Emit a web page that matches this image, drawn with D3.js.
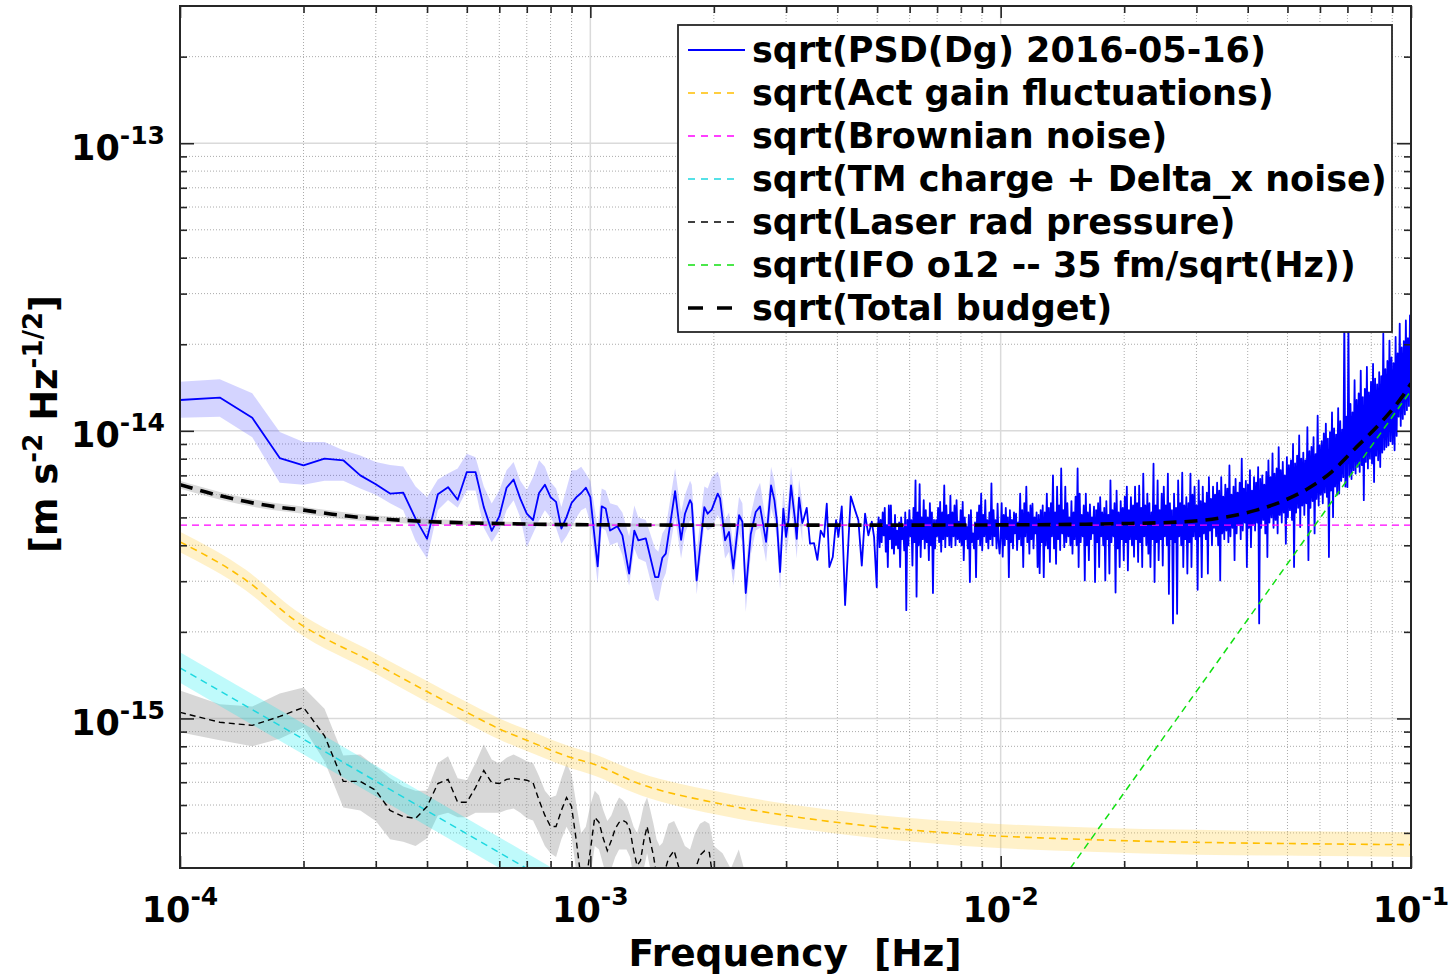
<!DOCTYPE html>
<html>
<head>
<meta charset="utf-8">
<script src="https://cdn.jsdelivr.net/npm/d3@7"></script>
<style>
  html, body { margin: 0; padding: 0; background: #fff; overflow: hidden; }
  svg text { font-family: "DejaVu Sans", sans-serif; font-weight: bold; fill: #000; white-space: pre; }
</style>
</head>
<body>
<svg id="chart" width="1454" height="975"></svg>
<script>
// Frequencies are given in mHz, amplitudes in units of 1e-15 m s^-2 Hz^-1/2.
const MHZ = 1e-3;
const UNIT = 1e-15;

// Axis ranges and decade tick exponents
const xDomain = [1e-4, 1e-1];
const yDomain = [3.02e-16, 3.0e-13];
const xTickExps = ["-4", "-3", "-2", "-1"];
const yTickExps = ["-15", "-14", "-13"];

// Measured sqrt(PSD) of Dg, low-frequency bins with confidence band
const psdLowFreq = [0.100,0.125,0.150,0.175,0.200,0.225,0.250,0.275,0.300,0.325,0.350,0.375,0.400,0.425,0.450,0.475,0.500,0.525,0.550,0.575,0.600,0.625,0.650,0.675,0.700,0.725,0.750,0.775,0.800,0.825,0.850,0.875,0.900,0.925,0.950,0.975,1.000];
const psdLowVal  = [12.8,13.05,11.1,8.04,7.58,8.0,7.9,7.0,6.52,6.05,6.1,4.95,4.21,6.02,6.37,5.76,7.19,7.19,5.43,4.49,5.04,6.34,6.77,5.81,5.15,4.89,6.08,6.5,5.88,5.66,4.57,5.01,5.61,5.88,6.08,6.34,5.88];
const psdLowLo   = [11.1,11.2,9.5,6.6,6.5,6.7,6.7,6.3,6.0,5.6,5.3,4.15,3.6,5.3,5.75,5.4,6.2,6.2,4.6,4.1,4.5,5.3,5.74,5.0,3.94,4.4,4.89,5.3,5.0,4.6,4.05,4.3,4.63,5.0,5.3,5.4,4.8];
const psdLowHi   = [14.8,15.1,13.5,9.9,9.14,9.14,8.56,8.2,7.79,7.6,7.52,6.4,5.88,6.77,7.11,7.4,8.33,8.1,6.4,5.59,6.2,7.29,7.79,6.7,6.21,6.9,7.9,7.5,6.64,6.3,5.43,6.3,7.29,7.3,7.5,7.1,6.7];

// 1 - 3.3 mHz bins: [frequency, value, band low, band high]
const psdMidTable = [
  [1.042,3.38,2.95,4.6],[1.066,5.46,4.6,6.3],[1.090,5.37,4.5,6.2],[1.117,4.5,4.0,5.6],
  [1.164,4.66,4.1,5.5],[1.197,4.33,3.7,5.2],[1.243,3.19,2.9,4.3],[1.280,4.5,3.9,5.5],
  [1.309,4.16,3.6,5.0],[1.365,4.23,3.5,4.9],[1.438,3.1,2.6,3.9],[1.465,3.1,2.55,3.8],
  [1.498,3.62,3.0,4.4],[1.527,3.74,3.2,4.6],[1.609,6.17,5.0,7.4],[1.664,4.18,3.6,5.2],
  [1.701,5.15,4.4,6.0],[1.750,5.74,4.9,6.7],[1.767,5.58,4.8,6.5],[1.816,3.02,2.7,3.8],
  [1.896,5.43,4.7,6.4],[1.932,5.15,4.5,6.3],[1.976,5.32,4.6,6.9],[2.044,6.05,5.1,7.2],
  [2.071,5.82,4.9,6.8],[2.130,4.16,3.6,4.9],[2.178,4.45,3.8,5.2],[2.231,3.32,2.9,4.0],
  [2.304,5.09,4.4,5.9],[2.347,4.83,4.1,5.6],[2.392,2.73,2.35,3.3],[2.460,4.37,3.7,5.1],
  [2.530,5.22,4.5,6.1],[2.592,5.46,4.6,6.6],[2.681,4.11,3.5,4.8],[2.757,6.46,5.4,7.5],
  [2.809,5.74,4.9,6.7],[2.847,4.89,4.2,5.7],[2.900,3.23,2.8,3.9],[2.954,5.36,4.6,6.3],
  [2.999,4.28,3.7,5.0],[3.038,4.89,4.2,5.8],[3.084,6.46,5.4,7.5],[3.154,4.89,4.2,5.7],
  [3.184,4.21,3.6,5.0],[3.226,5.86,5.0,6.8],[3.286,4.78,4.1,5.6]
];

// 3.3 - 5 mHz bins
const psdUpperFreq = [3.304,3.368,3.431,3.509,3.575,3.643,3.712,3.769,3.824,3.898,3.971,4.022,4.100,4.177,4.255,4.312,4.417,4.500,4.587,4.672,4.760,4.852,4.914,4.989];
const psdUpperVal  = [4.89,5.4,4.05,4.07,3.56,4.5,4.28,5.58,3.36,3.64,4.89,4.28,5.46,2.48,4.11,5.92,5.3,4.89,3.4,5.15,4.33,4.83,4.28,2.86];

// 5 - 100 mHz: display bins, 400 per decade starting at 10^-2.3 Hz
const psdDenseStartExp = -2.3;
const psdDensePerDecade = 400;
const psdDenseVal = [
  4.3,5.0,3.94,4.9,4.1,5.2,4.33,5.4,3.8,4.7,
  3.36,5.5,4.2,5.5,3.9,4.6,3.74,5.1,4.0,4.5,
  3.9,4.8,3.36,5.0,4.2,4.6,3.84,5.2,2.38,4.9,
  4.0,5.3,4.3,4.89,3.4,5.4,4.1,6.73,2.65,5.2,
  4.0,6.52,3.64,5.0,4.2,5.74,3.9,5.3,4.1,5.0,
  3.55,5.6,4.0,5.2,2.73,4.9,3.9,4.89,4.3,5.4,
  4.1,5.66,3.8,5.2,4.2,6.46,3.94,5.5,4.3,5.1,
  4.0,5.95,3.94,5.2,4.3,5.5,4.0,5.74,4.2,4.83,
  4.1,5.3,4.0,5.66,3.55,5.0,4.2,4.63,3.9,5.1,
  2.98,5.3,4.1,4.4,3.9,4.8,3.1,5.2,4.2,5.5,
  4.0,6.05,3.84,5.1,4.3,5.74,4.1,4.89,3.9,5.2,
  4.2,6.57,4.0,5.3,4.3,4.89,3.9,5.58,4.1,3.74,
  4.3,5.6,3.65,5.1,4.0,5.4,4.2,5.0,3.1,5.3,
  4.1,4.9,3.9,5.2,4.4,5.15,3.85,4.8,4.2,6.05,
  4.0,5.3,3.36,5.6,4.3,6.4,4.1,5.2,3.74,5.5,
  4.2,5.58,3.9,5.0,4.4,5.2,3.36,5.1,3.2,5.3,
  4.1,5.5,3.1,5.2,4.0,6.05,3.9,5.4,3.5,5.6,
  4.3,7.0,3.9,5.2,3.45,6.4,4.2,5.5,3.85,7.4,
  4.4,5.3,3.94,6.4,4.1,5.6,4.3,5.0,4.0,5.7,
  3.74,5.2,4.2,5.9,4.0,7.4,3.36,6.05,4.1,5.1,
  4.3,5.5,3.02,6.05,4.0,5.2,3.55,5.55,4.2,5.0,
  4.4,5.45,2.98,5.3,4.1,5.6,3.36,5.88,4.3,5.2,
  4.0,5.4,3.02,5.7,4.2,5.1,3.19,6.73,4.1,5.3,
  4.3,5.6,2.74,6.2,3.9,5.2,3.36,5.7,4.2,5.4,
  3.55,5.9,4.1,6.4,3.27,5.3,4.2,5.88,4.0,5.5,
  3.65,6.4,4.2,5.6,3.5,6.45,4.1,5.4,3.36,7.1,
  4.3,5.5,4.0,6.05,3.74,5.6,3.36,5.2,4.2,7.69,
  2.98,5.5,4.1,6.73,3.55,5.3,4.2,6.05,3.4,6.4,
  4.3,5.5,4.0,7.1,2.71,5.6,4.2,5.3,2.14,6.05,
  4.1,5.4,2.31,6.73,4.3,5.6,4.0,7.15,3.36,5.5,
  4.2,5.88,3.19,5.6,4.1,7.1,3.36,6.0,4.3,6.4,
  4.2,5.5,2.8,6.73,4.3,5.7,3.1,6.4,4.4,5.6,
  4.2,6.1,3.19,6.9,4.5,5.8,4.0,6.4,4.6,6.0,
  4.3,6.6,4.0,6.2,3.02,6.9,4.4,5.9,4.2,6.5,
  4.5,6.3,4.1,7.58,4.3,6.0,4.6,6.4,3.55,6.8,
  4.4,6.1,4.7,6.6,4.2,8.0,4.5,6.3,4.8,6.7,
  3.36,6.5,4.6,7.3,3.94,6.2,4.7,6.9,4.5,6.6,
  4.8,7.48,2.14,6.8,4.6,7.0,4.9,6.5,4.4,7.2,
  3.64,7.9,4.8,6.9,5.0,8.35,4.6,7.1,4.9,7.4,
  4.4,8.78,5.1,7.3,4.8,7.8,5.2,7.0,4.05,8.1,
  5.0,7.6,5.3,7.9,4.9,9.0,3.36,7.7,5.2,8.2,
  5.4,9.64,4.63,8.0,5.5,8.4,5.1,7.9,5.6,10.3,
  3.55,8.5,5.4,8.8,5.7,9.5,4.4,8.3,5.8,11.3,
  5.5,8.9,6.0,9.2,5.6,9.8,6.1,10.6,5.9,9.4,
  3.64,9.9,6.2,11.6,5.01,10.2,6.4,9.7,6.0,12.0,
  6.05,10.8,6.7,10.1,6.9,25.0,6.4,11.2,6.37,24.0,
  7.0,12.4,6.8,11.6,7.3,15.0,7.1,12.8,7.5,13.5,
  7.2,16.2,7.6,13.1,5.74,14.0,7.8,16.7,7.4,13.6,
  8.0,14.8,7.7,17.1,6.64,15.2,8.2,14.5,7.9,16.0,
  7.48,15.5,8.4,21.8,8.6,16.4,8.78,17.5,8.9,20.6,
  9.2,18.0,9.0,17.2,8.56,21.2,9.6,18.6,11.2,23.6,
  10.4,19.5,11.0,20.5,11.4,24.2,11.8,21.0,12.2,25.2,
  12.8
];

// Actuation gain fluctuations
const actFreq = [0.1,0.145,0.19,0.3,0.4,0.5,0.6,0.7,0.9,1.0,1.33,2.0,3.0,5.0,8.0,16.5,30,53,100];
const actVal  = [4.11,3.02,2.2,1.55,1.24,1.05,0.92,0.84,0.73,0.70,0.59,0.51,0.46,0.42,0.397,0.379,0.371,0.367,0.364];
const actLo   = [3.78,2.78,2.03,1.43,1.14,0.965,0.845,0.77,0.67,0.64,0.54,0.465,0.42,0.383,0.361,0.344,0.336,0.333,0.330];
const actHi   = [4.46,3.28,2.39,1.68,1.35,1.14,1.0,0.915,0.795,0.76,0.645,0.56,0.505,0.462,0.437,0.418,0.41,0.405,0.402];

// Brownian noise (flat)
const brownFreq = [0.1, 100];
const brownVal  = [4.7, 4.7];

// TM charge + Delta_x noise
const tmFreq = [0.1, 1.0];
const tmVal  = [1.50, 0.224];
const tmLo   = [1.33, 0.198];
const tmHi   = [1.70, 0.253];

// Laser radiation pressure
const laserFreq = [0.100,0.125,0.150,0.175,0.200,0.225,0.250,0.275,0.300,0.325,0.350,0.375,0.400,0.425,0.450,0.475,0.500,0.525,0.550,0.575,0.600,0.625,0.650,0.675,0.700,0.725,0.750,0.775,0.800,0.825,0.850,0.875,0.900,0.925,0.950,0.975,1.000,1.025,1.050,1.075,1.100,1.125,1.150,1.175,1.200,1.225,1.250,1.275,1.300,1.325,1.350,1.375,1.400,1.425,1.450,1.475,1.500,1.550,1.600,1.650,1.700,1.750,1.800,1.850,1.900,1.950,2.000,2.100,2.200,2.300,2.400];
const laserVal  = [1.05,0.97,0.946,1.016,1.092,0.87,0.604,0.604,0.562,0.479,0.456,0.449,0.494,0.594,0.614,0.511,0.511,0.575,0.659,0.598,0.594,0.614,0.619,0.614,0.61,0.598,0.519,0.46,0.421,0.421,0.479,0.531,0.494,0.373,0.273,0.27,0.347,0.453,0.435,0.383,0.347,0.376,0.414,0.435,0.442,0.435,0.408,0.347,0.308,0.32,0.376,0.421,0.373,0.334,0.284,0.262,0.277,0.326,0.347,0.297,0.273,0.262,0.297,0.334,0.347,0.342,0.262,0.27,0.24,0.27,0.22];
const laserLo   = [0.896,0.84,0.80,0.85,0.93,0.71,0.49,0.479,0.44,0.38,0.373,0.36,0.383,0.46,0.47,0.453,0.453,0.47,0.47,0.47,0.47,0.48,0.486,0.47,0.45,0.442,0.40,0.36,0.34,0.33,0.38,0.42,0.39,0.29,0.22,0.22,0.28,0.36,0.35,0.31,0.28,0.30,0.33,0.35,0.35,0.35,0.33,0.28,0.25,0.26,0.30,0.34,0.30,0.27,0.23,0.21,0.22,0.26,0.28,0.24,0.22,0.21,0.24,0.27,0.28,0.27,0.21,0.21,0.19,0.21,0.17];
const laserHi   = [1.25,1.12,1.10,1.22,1.28,1.08,0.743,0.75,0.68,0.62,0.58,0.56,0.56,0.70,0.739,0.62,0.61,0.70,0.813,0.72,0.697,0.73,0.75,0.73,0.71,0.70,0.63,0.56,0.531,0.54,0.62,0.697,0.64,0.50,0.40,0.42,0.50,0.56,0.54,0.48,0.44,0.46,0.50,0.531,0.52,0.50,0.46,0.42,0.40,0.44,0.50,0.531,0.48,0.43,0.38,0.36,0.37,0.43,0.44,0.40,0.36,0.35,0.40,0.43,0.44,0.43,0.36,0.34,0.30,0.35,0.28];

// Interferometer readout, 35 fm/sqrt(Hz)
const ifoFreq = [10, 100];
const ifoVal  = [0.138, 13.8];

// Total noise budget
const budgetFreq = [0.1,0.125,0.17,0.2,0.235,0.275,0.33,0.41,0.6,0.9,2,5,10,20,28,35,42,48,56,64,73,84,95,100];
const budgetVal  = [6.5,5.95,5.45,5.3,5.13,5.0,4.91,4.83,4.76,4.72,4.70,4.70,4.71,4.76,4.83,5.0,5.3,5.65,6.29,7.19,8.67,10.6,13.1,14.6];
const budgetLo   = [6.3,5.77,5.29,5.15,4.99,4.87,4.79,4.72,4.68,4.66,4.66,4.66,4.67,4.71,4.77,4.92,5.2,5.52,6.12,7.0,8.45,10.3,12.75,14.2];
const budgetHi   = [6.7,6.13,5.61,5.45,5.27,5.13,5.03,4.94,4.84,4.78,4.74,4.74,4.75,4.81,4.89,5.08,5.4,5.78,6.46,7.38,8.9,10.9,13.45,15.0];

const legendLabels = [
  "sqrt(PSD(Dg) 2016-05-16)",
  "sqrt(Act gain fluctuations)",
  "sqrt(Brownian noise)",
  "sqrt(TM charge + Delta_x noise)",
  "sqrt(Laser rad pressure)",
  "sqrt(IFO o12 -- 35 fm/sqrt(Hz))",
  "sqrt(Total budget)"
];

// ---------- helpers ----------
const pairs = (fs, vs) => fs.map((f, i) => [f * MHZ, vs[i] * UNIT]);
const bands = (fs, lo, hi) => fs.map((f, i) => [f * MHZ, lo[i] * UNIT, hi[i] * UNIT]);

const psdPoints = [
  ...pairs(psdLowFreq, psdLowVal),
  ...psdMidTable.map(r => [r[0] * MHZ, r[1] * UNIT]),
  ...pairs(psdUpperFreq, psdUpperVal),
  ...psdDenseVal.map((v, i) => [Math.pow(10, psdDenseStartExp + i / psdDensePerDecade), v * UNIT])
];
const psdBand = [
  ...bands(psdLowFreq, psdLowLo, psdLowHi),
  ...psdMidTable.map(r => [r[0] * MHZ, r[2] * UNIT, r[3] * UNIT])
];

// ---------- chart ----------
const svg = d3.select("#chart");
const x = d3.scaleLog().domain(xDomain).range([180, 1411]);
const y = d3.scaleLog().domain(yDomain).range([868, 6]);
const [xL, xR] = x.range();
const [yB, yT] = y.range();

const xMajor = xTickExps.map(e => Math.pow(10, +e));
const yMajor = yTickExps.map(e => Math.pow(10, +e));
const xMinor = [1e-4, 1e-3, 1e-2].flatMap(d => d3.range(2, 10).map(k => d * k));
const yMinor = [1e-16, 1e-15, 1e-14, 1e-13].flatMap(d => d3.range(2, 10).map(k => d * k))
  .filter(v => y(v) < yB - 1 && y(v) > yT + 1);

// grid
const grid = svg.append("g");
grid.selectAll("line.gxm").data(xMinor).join("line")
  .attr("x1", d => x(d)).attr("x2", d => x(d)).attr("y1", yB).attr("y2", yT)
  .attr("stroke", "#aaaaaa").attr("stroke-width", 1).attr("stroke-dasharray", "1,2");
grid.selectAll("line.gym").data(yMinor).join("line")
  .attr("x1", xL).attr("x2", xR).attr("y1", d => y(d)).attr("y2", d => y(d))
  .attr("stroke", "#aaaaaa").attr("stroke-width", 1).attr("stroke-dasharray", "1,2");
grid.selectAll("line.gxM").data(xMajor).join("line")
  .attr("x1", d => x(d)).attr("x2", d => x(d)).attr("y1", yB).attr("y2", yT)
  .attr("stroke", "#dadada").attr("stroke-width", 1.5);
grid.selectAll("line.gyM").data(yMajor).join("line")
  .attr("x1", xL).attr("x2", xR).attr("y1", d => y(d)).attr("y2", d => y(d))
  .attr("stroke", "#dadada").attr("stroke-width", 1.5);

// data layer
svg.append("clipPath").attr("id", "plotClip")
  .append("rect").attr("x", xL).attr("y", yT).attr("width", xR - xL).attr("height", yB - yT);
const plot = svg.append("g").attr("clip-path", "url(#plotClip)");

const line = d3.line().x(d => x(d[0])).y(d => y(d[1]));
const smooth = d3.line().x(d => x(d[0])).y(d => y(d[1])).curve(d3.curveMonotoneX);
const area = d3.area().x(d => x(d[0])).y0(d => y(d[1])).y1(d => y(d[2]));
const smoothArea = d3.area().x(d => x(d[0])).y0(d => y(d[1])).y1(d => y(d[2])).curve(d3.curveMonotoneX);

// shaded uncertainty bands
plot.append("path").attr("d", area(bands(laserFreq, laserLo, laserHi)))
  .attr("fill", "rgb(150,150,150)").attr("fill-opacity", 0.38);
plot.append("path").attr("d", area(bands(tmFreq, tmLo, tmHi)))
  .attr("fill", "rgb(0,235,240)").attr("fill-opacity", 0.25);
plot.append("path").attr("d", smoothArea(bands(actFreq, actLo, actHi)))
  .attr("fill", "rgb(255,205,60)").attr("fill-opacity", 0.28);
plot.append("path").attr("d", area(psdBand))
  .attr("fill", "rgb(60,60,255)").attr("fill-opacity", 0.22);
plot.append("path").attr("d", smoothArea(bands(budgetFreq, budgetLo, budgetHi)))
  .attr("fill", "rgb(150,150,150)").attr("fill-opacity", 0.35);

// measured PSD
plot.append("path").attr("d", line(psdPoints))
  .attr("fill", "none").attr("stroke", "#0000ff").attr("stroke-width", 1.8)
  .attr("stroke-linejoin", "round");

// model curves
plot.append("path").attr("d", smooth(pairs(actFreq, actVal)))
  .attr("fill", "none").attr("stroke", "#ffbf00").attr("stroke-width", 1.6).attr("stroke-dasharray", "7,5");
plot.append("path").attr("d", line(pairs(brownFreq, brownVal)))
  .attr("fill", "none").attr("stroke", "#ff00ff").attr("stroke-width", 1.4).attr("stroke-dasharray", "7,5");
plot.append("path").attr("d", line(pairs(tmFreq, tmVal)))
  .attr("fill", "none").attr("stroke", "#1ed8e0").attr("stroke-width", 1.5).attr("stroke-dasharray", "7,5");
plot.append("path").attr("d", line(pairs(laserFreq, laserVal)))
  .attr("fill", "none").attr("stroke", "#000").attr("stroke-width", 1.4).attr("stroke-dasharray", "6,4");
plot.append("path").attr("d", line(pairs(ifoFreq, ifoVal)))
  .attr("fill", "none").attr("stroke", "#10e010").attr("stroke-width", 1.5).attr("stroke-dasharray", "7,5");
plot.append("path").attr("d", smooth(pairs(budgetFreq, budgetVal)))
  .attr("fill", "none").attr("stroke", "#000").attr("stroke-width", 3.6).attr("stroke-dasharray", "13,8");

// axes (ticks pointing inward on all four sides)
function ticks(axisFn, scale, values, size, tx, ty) {
  const g = svg.append("g").attr("transform", `translate(${tx},${ty})`)
    .call(axisFn(scale).tickValues(values).tickSize(size).tickFormat(() => ""));
  g.select(".domain").remove();
  g.selectAll(".tick line").attr("stroke", "#262626").attr("stroke-width", 1.6);
}
ticks(d3.axisBottom, x, xMajor, -12, 0, yB);
ticks(d3.axisBottom, x, xMinor, -7, 0, yB);
ticks(d3.axisTop, x, xMajor, -12, 0, yT);
ticks(d3.axisTop, x, xMinor, -7, 0, yT);
ticks(d3.axisLeft, y, yMajor, -14, xL, 0);
ticks(d3.axisLeft, y, yMinor, -7, xL, 0);
ticks(d3.axisRight, y, yMajor, -14, xR, 0);
ticks(d3.axisRight, y, yMinor, -7, xR, 0);

svg.append("rect").attr("x", xL).attr("y", yT).attr("width", xR - xL).attr("height", yB - yT)
  .attr("fill", "none").attr("stroke", "#262626").attr("stroke-width", 2);

// tick labels: 10^n
svg.selectAll("text.xtl").data(xTickExps).join("text")
  .attr("class", "xtl").attr("x", d => x(Math.pow(10, +d))).attr("y", 922).attr("text-anchor", "middle")
  .each(function (d) {
    const t = d3.select(this);
    t.append("tspan").text("10").style("font-size", "35px");
    t.append("tspan").text(d).attr("dy", -17).style("font-size", "25px");
  });
svg.selectAll("text.ytl").data(yTickExps).join("text")
  .attr("class", "ytl").attr("x", 165).attr("y", d => y(Math.pow(10, +d)) + 16.5).attr("text-anchor", "end")
  .each(function (d) {
    const t = d3.select(this);
    t.append("tspan").text("10").style("font-size", "35px");
    t.append("tspan").text(d).attr("dy", -16).style("font-size", "25px");
  });

// axis titles
svg.append("text").attr("x", 795).attr("y", 966).attr("text-anchor", "middle")
  .style("font-size", "37.5px").text("Frequency  [Hz]");

const yTitle = svg.append("text").attr("transform", "translate(57,424) rotate(-90)")
  .attr("text-anchor", "middle").style("font-size", "37px");
yTitle.append("tspan").text("[m s");
yTitle.append("tspan").text("-2").attr("dy", -15).style("font-size", "26px");
yTitle.append("tspan").text(" Hz").attr("dy", 15);
yTitle.append("tspan").text("-1/2").attr("dy", -15).style("font-size", "26px");
yTitle.append("tspan").text("]").attr("dy", 15);

// legend
const legendStyles = [
  { stroke: "#0000ff", width: 2, dash: null, len: 57 },
  { stroke: "#ffbf00", width: 1.5, dash: "7,6", len: 52 },
  { stroke: "#ff00ff", width: 1.5, dash: "7,6", len: 52 },
  { stroke: "#1ed8e0", width: 1.5, dash: "7,6", len: 52 },
  { stroke: "#000000", width: 1.3, dash: "7,6", len: 52 },
  { stroke: "#10e010", width: 1.5, dash: "7,6", len: 52 },
  { stroke: "#000000", width: 3.6, dash: "15,14", len: 47 }
];
const legend = svg.append("g");
legend.append("rect").attr("x", 678).attr("y", 25).attr("width", 714).attr("height", 307)
  .attr("fill", "#fff").attr("stroke", "#262626").attr("stroke-width", 1.8);
const rows = legend.selectAll("g.row").data(legendLabels).join("g")
  .attr("transform", (d, i) => `translate(0,${50 + i * 43})`);
rows.append("line").attr("x1", 688).attr("x2", (d, i) => 688 + legendStyles[i].len)
  .attr("y1", 0).attr("y2", 0)
  .attr("stroke", (d, i) => legendStyles[i].stroke)
  .attr("stroke-width", (d, i) => legendStyles[i].width)
  .attr("stroke-dasharray", (d, i) => legendStyles[i].dash);
rows.append("text").attr("x", 752).attr("y", 12).style("font-size", "35px").text(d => d);
</script>
</body>
</html>
